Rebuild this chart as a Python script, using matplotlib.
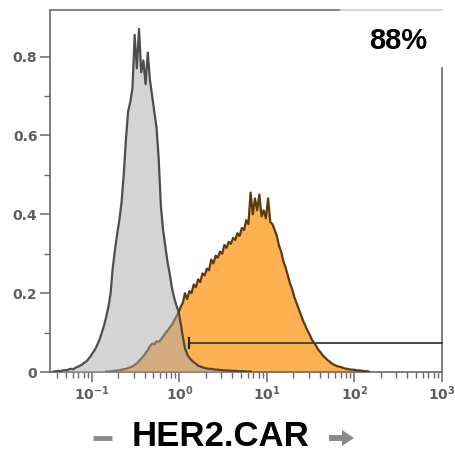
import numpy as np
import matplotlib
matplotlib.use("Agg")
from matplotlib import pyplot as plt
from matplotlib.lines import Line2D
from matplotlib.patches import FancyArrow
from matplotlib.transforms import IdentityTransform
from matplotlib.ticker import FixedLocator, LogLocator, NullFormatter

# histogram bins are in log10 units, width 0.025
bin_w = 0.025

# unstained / control (grey)
grey_start = -1.45
grey_vals = [
    0.001, 0.002, 0.003, 0.002, 0.004, 0.005, 0.004, 0.007, 0.008, 0.007,
    0.011, 0.013, 0.016, 0.019, 0.024, 0.027, 0.034, 0.041, 0.050, 0.058,
    0.070, 0.083, 0.100, 0.118, 0.140, 0.165, 0.200, 0.265, 0.310, 0.350,
    0.385, 0.430, 0.500, 0.590, 0.660, 0.685, 0.720, 0.855, 0.770, 0.870,
    0.760, 0.790, 0.730, 0.810, 0.740, 0.700, 0.660, 0.620, 0.540, 0.420,
    0.360, 0.320, 0.280, 0.250, 0.215, 0.190, 0.170, 0.155, 0.125, 0.090,
    0.060, 0.045, 0.036, 0.030, 0.025, 0.021, 0.016, 0.014, 0.012, 0.010,
    0.009, 0.008, 0.008, 0.007, 0.006, 0.006, 0.005, 0.005, 0.004, 0.004,
    0.004, 0.003, 0.003, 0.003, 0.002, 0.002, 0.002, 0.002, 0.001, 0.001,
    0.001,
]

# HER2.CAR (orange)
car_start = -0.85
car_vals = [
    0.001, 0.001, 0.002, 0.002, 0.003, 0.004, 0.004, 0.006, 0.007, 0.008,
    0.010, 0.012, 0.014, 0.018, 0.022, 0.028, 0.034, 0.040, 0.048, 0.055,
    0.066, 0.072, 0.070, 0.078, 0.076, 0.082, 0.090, 0.098, 0.105, 0.112,
    0.120, 0.130, 0.140, 0.150, 0.165, 0.175, 0.200, 0.185, 0.205, 0.200,
    0.222, 0.215, 0.235, 0.228, 0.250, 0.245, 0.262, 0.258, 0.285, 0.275,
    0.295, 0.290, 0.305, 0.300, 0.322, 0.315, 0.330, 0.325, 0.340, 0.335,
    0.352, 0.345, 0.365, 0.360, 0.385, 0.375, 0.455, 0.400, 0.440, 0.410,
    0.450, 0.395, 0.410, 0.390, 0.440, 0.380, 0.375, 0.360, 0.345, 0.320,
    0.305, 0.280, 0.265, 0.245, 0.225, 0.210, 0.190, 0.175, 0.160, 0.145,
    0.130, 0.118, 0.105, 0.095, 0.082, 0.074, 0.066, 0.056, 0.050, 0.042,
    0.037, 0.031, 0.027, 0.022, 0.019, 0.016, 0.014, 0.013, 0.011, 0.009,
    0.008, 0.007, 0.006, 0.006, 0.005, 0.004, 0.004, 0.003, 0.002, 0.002,
    0.001,
]

# gate
gate_y = 0.073
gate_x = [1.3, 1000]
gate_pct = "88%"

yticks = [0, 0.2, 0.4, 0.6, 0.8]
ytick_labels = ["0", "0.2", "0.4", "0.6", "0.8"]
xticks = [0.1, 1, 10, 100, 1000]
xtick_labels = [r"$\mathbf{10^{-1}}$", r"$\mathbf{10^{0}}$", r"$\mathbf{10^{1}}$",
                r"$\mathbf{10^{2}}$", r"$\mathbf{10^{3}}$"]

spine_col = "#6a6a6a"
tick_col = "#5e5e5e"

fig = plt.figure(figsize=(4.56, 4.59), dpi=100)
ax = fig.add_axes([50 / 456, 87 / 459, 392 / 456, 362 / 459])


def centers_for(start, n):
    return 10 ** (start + bin_w * (np.arange(n) + 0.5))


car_x = centers_for(car_start, len(car_vals))
grey_x = centers_for(grey_start, len(grey_vals))

ax.fill_between(car_x, car_vals, 0, color="#ffb050", lw=0, zorder=2)
ax.plot(car_x, car_vals, color="#5c3a10", lw=1.6, zorder=3)
ax.fill_between(grey_x, grey_vals, 0, color="#aaaaaa", alpha=0.5, lw=0, zorder=4)
ax.plot(grey_x, grey_vals, color="#3c3c3c", lw=1.6, alpha=0.9, zorder=5)

# gate bar
ax.plot(gate_x, [gate_y, gate_y], color="#3a3a3a", lw=1.3, zorder=6, clip_on=False)
ax.plot([gate_x[0], gate_x[0]], [gate_y - 0.013, gate_y + 0.013], color="#2a2a2a", lw=1.6, zorder=6)

ax.set_xscale("log")
ax.set_xlim(10 ** -1.48, 1000)
ax.set_ylim(0, 0.918)

ax.set_yticks(yticks)
ax.set_yticklabels(ytick_labels, fontweight="bold")
ax.yaxis.set_minor_locator(FixedLocator([0.1, 0.3, 0.5, 0.7]))
ax.set_xticks(xticks)
ax.set_xticklabels(xtick_labels)
ax.xaxis.set_minor_locator(LogLocator(base=10, subs=np.arange(2, 10), numticks=20))
ax.xaxis.set_minor_formatter(NullFormatter())

ax.tick_params(axis="both", which="major", length=7, width=1.1, color=spine_col,
               labelcolor=tick_col, labelsize=10, pad=2)
ax.tick_params(axis="both", which="minor", length=4, width=1.0, color=spine_col)

for s in ["left", "bottom"]:
    ax.spines[s].set_color(spine_col)
    ax.spines[s].set_linewidth(1.2)
ax.spines["top"].set_visible(False)
ax.spines["right"].set_color(spine_col)
ax.spines["right"].set_linewidth(1.2)
ax.spines["right"].set_bounds(0, 0.77)

# top border: darker part then a faint part
ax.plot([0, 0.74], [1, 1], transform=ax.transAxes, color="#7a7a7a", lw=1.3, clip_on=False)
ax.plot([0.74, 1], [1, 1], transform=ax.transAxes, color="#c8c8c8", lw=1.1, clip_on=False)

ax.text(0.887, 0.915, gate_pct, transform=ax.transAxes, ha="center", va="center",
        fontsize=21, fontweight="bold", family="Liberation Sans")

# x label with grey dash and arrow
fig.text(221 / 456, 1 - 436 / 459, "HER2.CAR", ha="center", va="center",
         fontsize=25, fontweight="bold", family="Liberation Sans")
fig.add_artist(Line2D([93 / 456, 112 / 456], [1 - 438 / 459, 1 - 438 / 459],
                      color="#8a8a8a", lw=3.5, solid_capstyle="butt"))
fig.add_artist(FancyArrow(329, 459 - 438, 25, 0, width=6, head_width=16, head_length=12,
                          length_includes_head=True, color="#8a8a8a", lw=0,
                          transform=IdentityTransform()))

fig.savefig("out.png", dpi=100)
